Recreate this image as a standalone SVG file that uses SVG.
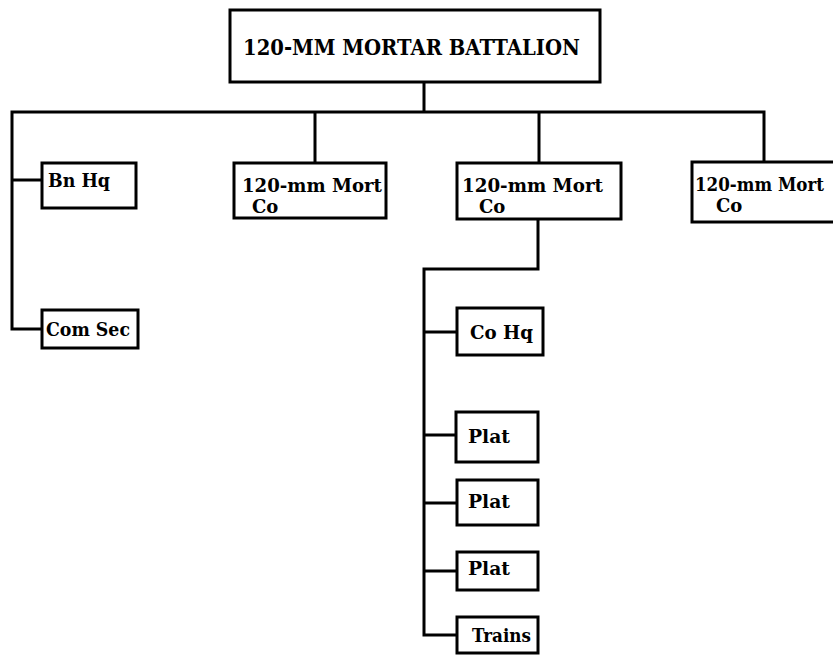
<svg xmlns="http://www.w3.org/2000/svg" width="833" height="657" viewBox="0 0 833 657">
<style>
.box{fill:#fff;stroke:#000;stroke-width:3}
.ln{fill:none;stroke:#000;stroke-width:3;stroke-linejoin:miter;stroke-linecap:square}
text{font-family:"DejaVu Serif","Liberation Serif",serif;font-weight:bold;fill:#000}
.t{font-size:22px}
.l{font-size:18px}
</style>
<rect width="833" height="657" fill="#fff"/>
<g id="connectors">
<path class="ln" d="M424,82V112M12,112H764V162M12,112V329M12,180H42M12,329H42M315,112V163M539,112V163"/>
<path class="ln" d="M538,219V269H424V635M424,332H457M424,435H456M424,503H457M424,571H457M424,635H457"/>
</g>
<g id="battalion">
<rect class="box" x="230" y="10" width="370" height="72"/>
<text class="t" x="243" y="55" textLength="337" lengthAdjust="spacingAndGlyphs">120-MM MORTAR BATTALION</text>
</g>
<g id="bn-hq">
<rect class="box" x="42" y="163" width="94" height="45"/>
<text class="l" x="48" y="187" textLength="62" lengthAdjust="spacingAndGlyphs">Bn Hq</text>
</g>
<g id="com-sec">
<rect class="box" x="42" y="310" width="96" height="38"/>
<text class="l" x="46" y="336" textLength="84" lengthAdjust="spacingAndGlyphs">Com Sec</text>
</g>
<g id="mort-co-1">
<rect class="box" x="234" y="163" width="152" height="55"/>
<text class="l" x="242" y="192" textLength="140" lengthAdjust="spacingAndGlyphs">120-mm Mort</text>
<text class="l" x="252" y="213">Co</text>
</g>
<g id="mort-co-2">
<rect class="box" x="457" y="163" width="164" height="56"/>
<text class="l" x="462" y="192" textLength="141" lengthAdjust="spacingAndGlyphs">120-mm Mort</text>
<text class="l" x="479" y="213">Co</text>
</g>
<g id="mort-co-3">
<rect class="box" x="692" y="162" width="150" height="60"/>
<text class="l" x="695" y="191" textLength="129" lengthAdjust="spacingAndGlyphs">120-mm Mort</text>
<text class="l" x="716" y="212">Co</text>
</g>
<g id="co-hq">
<rect class="box" x="457" y="308" width="86" height="47"/>
<text class="l" x="470" y="339" textLength="63" lengthAdjust="spacingAndGlyphs">Co Hq</text>
</g>
<g id="plat-1">
<rect class="box" x="456" y="412" width="82" height="50"/>
<text class="l" x="468" y="443" textLength="42" lengthAdjust="spacingAndGlyphs">Plat</text>
</g>
<g id="plat-2">
<rect class="box" x="457" y="480" width="81" height="45"/>
<text class="l" x="468" y="508" textLength="42" lengthAdjust="spacingAndGlyphs">Plat</text>
</g>
<g id="plat-3">
<rect class="box" x="457" y="552" width="81" height="38"/>
<text class="l" x="468" y="575" textLength="42" lengthAdjust="spacingAndGlyphs">Plat</text>
</g>
<g id="trains">
<rect class="box" x="457" y="617" width="81" height="36"/>
<text class="l" x="472" y="642" textLength="59" lengthAdjust="spacingAndGlyphs">Trains</text>
</g>
</svg>
